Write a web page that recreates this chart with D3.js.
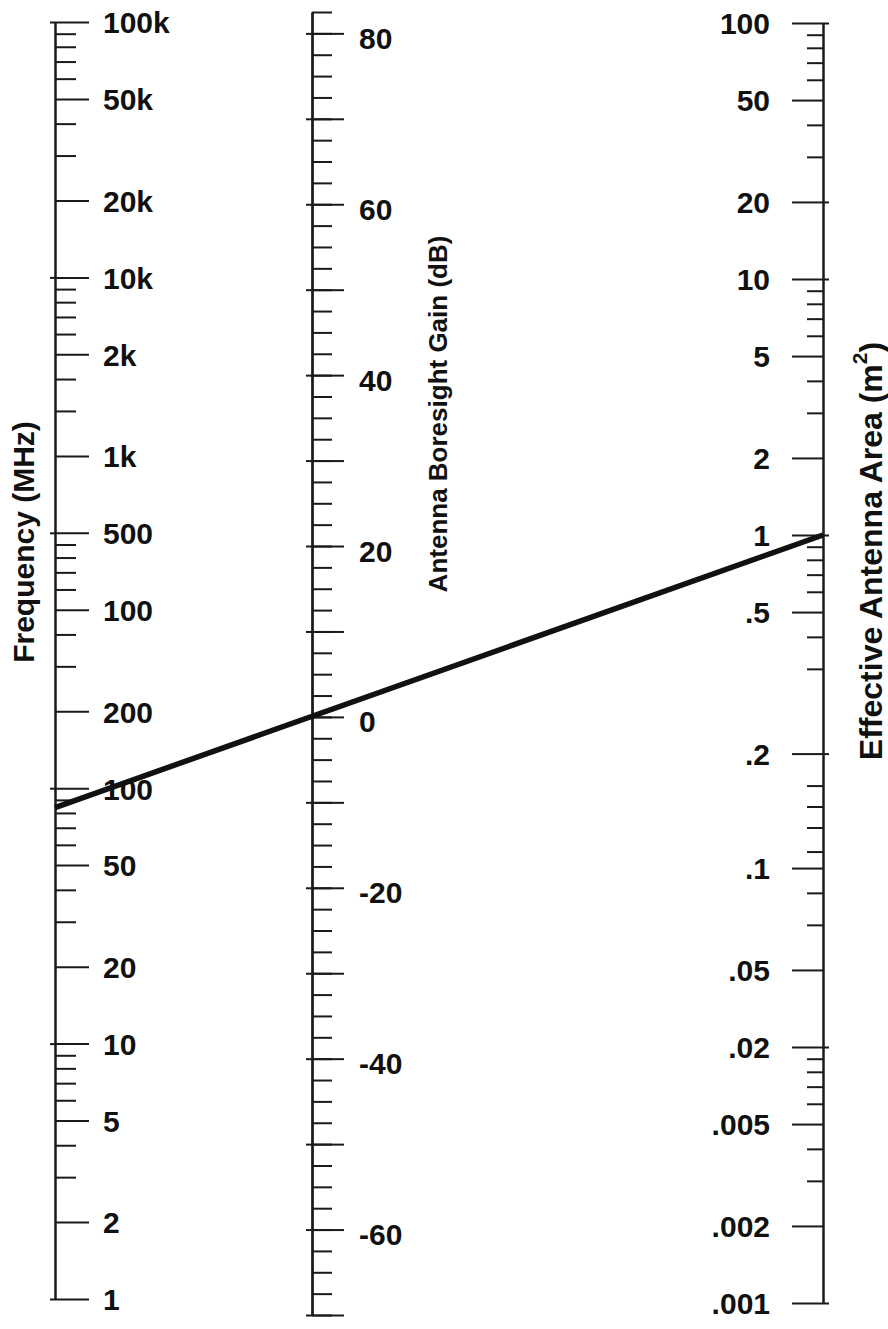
<!DOCTYPE html>
<html>
<head>
<meta charset="utf-8">
<script src="https://cdn.jsdelivr.net/npm/d3@7"></script>
<style>
  body { margin: 0; background: #fff; }
  svg text { font-family: "Liberation Sans", Arial, Helvetica, sans-serif; font-weight: bold; fill: #111; }
  .axis path, .axis line { stroke: #1a1a1a; stroke-width: 2px; }
</style>
</head>
<body>
<script>
// frequency axis (MHz) -- labels as printed on the nomograph
var freqTicks  = [1, 2, 5, 10, 20, 50, 100, 200, 500, 1000, 2000, 5000, 10000, 20000, 50000, 100000];
var freqLabels = ["1", "2", "5", "10", "20", "50", "100", "200", "100", "500", "1k", "2k", "10k", "20k", "50k", "100k"];
var freqMinor  = [3, 4, 6, 7, 8, 9, 30, 40, 60, 70, 80, 90, 300, 400, 600, 700, 800, 900,
                  3000, 4000, 6000, 7000, 8000, 9000, 30000, 40000, 60000, 70000, 80000, 90000];
var freqDecades = [1, 10, 100, 1000, 10000, 100000];

// antenna boresight gain (dB)
var gainLabels = [-60, -40, -20, 0, 20, 40, 60, 80];
var gainMajor  = [-70, -60, -50, -40, -30, -20, -10, 0, 10, 20, 30, 40, 50, 60, 70, 80];

// effective antenna area (m^2)
var areaTicks  = [100, 50, 20, 10, 5, 2, 1, 0.5, 0.14, 0.05, 0.02, 0.01, 0.005, 0.002, 0.001];
var areaLabels = ["100", "50", "20", "10", "5", "2", "1", ".5", ".2", ".1", ".05", ".02", ".005", ".002", ".001"];
var areaMinor  = [90, 80, 70, 60, 40, 30, 9, 8, 7, 6, 4, 3, 0.9, 0.8, 0.7, 0.6, 0.4, 0.3,
                  0.105, 0.087, 0.072, 0.058, 0.04, 0.03, 0.009, 0.008, 0.007, 0.006, 0.004, 0.003];
var areaDecades = [100, 20, 10, 1, 0.14, 0.01, 0.001];

// the example solution line
var lineFreq = 84, lineArea = 1;

var width = 888, height = 1329;
var xFreq = 55, xGain = 312, xArea = 823;

var svg = d3.select("body").append("svg")
    .attr("width", width)
    .attr("height", height);

var yFreq = d3.scaleLog().domain([1, 100000]).range([1299, 22]);
var yGain = d3.scaleLinear().domain([-70, 82.5]).range([1315, 12]);
var yArea = d3.scaleLog().domain([0.001, 100]).range([1303, 23]);

function addAxis(axis, x) {
  var g = svg.append("g")
      .attr("class", "axis")
      .attr("transform", "translate(" + x + ",0)")
      .call(axis);
  g.attr("font-size", 30).attr("font-family", null);
  g.selectAll("text").attr("dy", "0.36em").attr("fill", "#111");
  return g;
}

// frequency
addAxis(d3.axisRight(yFreq).tickValues(freqMinor).tickSize(21).tickSizeOuter(0).tickFormat(""), xFreq);
addAxis(d3.axisLeft(yFreq).tickValues(freqDecades).tickSize(5).tickSizeOuter(0).tickFormat(""), xFreq)
  .select(".domain").remove();
addAxis(d3.axisRight(yFreq).tickValues(freqTicks).tickSize(34).tickSizeOuter(0).tickPadding(14)
  .tickFormat(function(d, i) { return freqLabels[i]; }), xFreq);

// gain
addAxis(d3.axisRight(yGain).tickValues(d3.range(-70, 83, 2.5)).tickSize(20).tickSizeOuter(0).tickFormat(""), xGain);
addAxis(d3.axisLeft(yGain).tickValues(gainMajor).tickSize(6).tickSizeOuter(0).tickFormat(""), xGain)
  .select(".domain").remove();
addAxis(d3.axisRight(yGain).tickValues(gainMajor).tickSize(32).tickSizeOuter(0).tickFormat(""), xGain);
addAxis(d3.axisRight(yGain).tickValues(gainLabels).tickSize(0).tickSizeOuter(0).tickPadding(47)
  .tickFormat(function(d) { return String(d); }), xGain)
  .selectAll("text").attr("dy", "0.5em");

// area
addAxis(d3.axisLeft(yArea).tickValues(areaMinor).tickSize(16).tickSizeOuter(0).tickFormat(""), xArea);
addAxis(d3.axisRight(yArea).tickValues(areaDecades).tickSize(6).tickSizeOuter(0).tickFormat(""), xArea)
  .select(".domain").remove();
addAxis(d3.axisLeft(yArea).tickValues(areaTicks).tickSize(31).tickSizeOuter(0).tickPadding(22)
  .tickFormat(function(d, i) { return areaLabels[i]; }), xArea);

// solution line
svg.append("line")
    .attr("x1", xFreq).attr("y1", yFreq(lineFreq))
    .attr("x2", xArea).attr("y2", yArea(lineArea))
    .attr("stroke", "#111")
    .attr("stroke-width", 5.5);

// axis titles
svg.append("text")
    .attr("transform", "translate(34,542) rotate(-90)")
    .attr("text-anchor", "middle")
    .attr("font-size", 30)
    .text("Frequency (MHz)");

svg.append("text")
    .attr("transform", "translate(447,414) rotate(-90)")
    .attr("text-anchor", "middle")
    .attr("font-size", 26)
    .text("Antenna Boresight Gain (dB)");

var t = svg.append("text")
    .attr("transform", "translate(882,551) rotate(-90)")
    .attr("text-anchor", "middle")
    .attr("font-size", 32);
t.append("tspan").text("Effective Antenna Area (m");
t.append("tspan").attr("font-size", 21).attr("dy", "-0.7em").text("2");
t.append("tspan").attr("dy", "0.45em").text(")");
</script>
</body>
</html>
